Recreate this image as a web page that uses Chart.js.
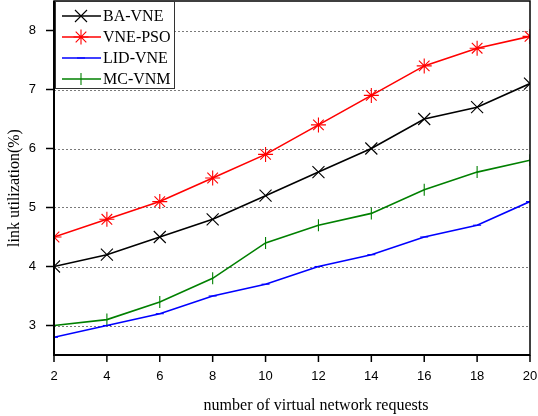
<!DOCTYPE html>
<html>
<head>
<meta charset="utf-8">
<script src="https://cdn.jsdelivr.net/npm/chart.js@4/dist/chart.umd.min.js"></script>
<style>
  html, body { margin: 0; padding: 0; background: #fff; }
  #wrap { width: 538px; height: 416px; position: relative; }
</style>
</head>
<body>
<div id="wrap"><canvas id="linkChart"></canvas></div>
<script>
// values
const requests = [2, 4, 6, 8, 10, 12, 14, 16, 18, 20];
const baVne  = [4.0, 4.2, 4.5, 4.8, 5.2, 5.6, 6.0, 6.5, 6.7, 7.1];
const vnePso = [4.5, 4.8, 5.1, 5.5, 5.9, 6.4, 6.9, 7.4, 7.7, 7.9];
const lidVne = [2.8, 3.0, 3.2, 3.5, 3.7, 4.0, 4.2, 4.5, 4.7, 5.1];
const mcVnm  = [3.0, 3.1, 3.4, 3.8, 4.4, 4.7, 4.9, 5.3, 5.6, 5.8];
const seriesNames = ['BA-VNE', 'VNE-PSO', 'LID-VNE', 'MC-VNM'];
const xTitle = 'number of virtual network requests';
const yTitle = 'link utilization(%)';

const serif = '"Liberation Serif", "Times New Roman", serif';
const sans = '"Liberation Sans", Arial, sans-serif';

const toPoints = vals => vals.map((v, i) => ({ x: requests[i], y: v }));

const styles = [
  { color: '#000000', pointStyle: 'crossRot', radius: 8.5, rotation: 0 },
  { color: '#ff0000', pointStyle: 'star', radius: 7.5, rotation: 0 },
  { color: '#0000ff', pointStyle: 'line', radius: 4, rotation: 0 },
  { color: '#008000', pointStyle: 'line', radius: 6, rotation: 90 }
];

const datasets = [baVne, vnePso, lidVne, mcVnm].map((vals, i) => ({
  label: seriesNames[i],
  data: toPoints(vals),
  borderColor: styles[i].color,
  backgroundColor: styles[i].color,
  borderWidth: 1.6,
  pointStyle: styles[i].pointStyle,
  pointRadius: styles[i].radius,
  pointRotation: styles[i].rotation,
  pointBorderWidth: 1.1,
  tension: 0
}));

// frame, dashed grid, tick marks, titles and the boxed legend
const decorations = {
  id: 'decorations',
  beforeDatasetsDraw(chart) {
    const { ctx, chartArea: a, scales: { y } } = chart;
    ctx.save();
    ctx.strokeStyle = '#7a7a7a';
    ctx.lineWidth = 1;
    ctx.setLineDash([2, 2]);
    y.ticks.forEach(t => {
      if (Number.isInteger(t.value) && t.value > y.min && t.value < y.max) {
        const py = Math.round(y.getPixelForValue(t.value)) + 0.5;
        ctx.beginPath();
        ctx.moveTo(a.left, py);
        ctx.lineTo(a.right, py);
        ctx.stroke();
      }
    });
    ctx.restore();
  },
  afterDraw(chart) {
    const { ctx, chartArea: a, scales: { x, y } } = chart;
    ctx.save();
    ctx.strokeStyle = '#000';
    ctx.setLineDash([]);

    // frame
    ctx.lineWidth = 1.5;
    ctx.strokeRect(a.left, a.top, a.right - a.left, a.bottom - a.top);
    ctx.lineWidth = 2;
    ctx.beginPath();
    ctx.moveTo(a.left, a.top);
    ctx.lineTo(a.left, a.bottom);
    ctx.lineTo(a.right, a.bottom);
    ctx.stroke();

    // tick marks (major + minor), pointing out
    ctx.lineWidth = 1.5;
    y.ticks.forEach(t => {
      const py = y.getPixelForValue(t.value);
      const len = Number.isInteger(t.value) ? 8 : 5;
      ctx.beginPath();
      ctx.moveTo(a.left - len, py);
      ctx.lineTo(a.left, py);
      ctx.stroke();
    });
    x.ticks.forEach(t => {
      const px = x.getPixelForValue(t.value);
      const len = t.value % 2 === 0 ? 7 : 4;
      ctx.beginPath();
      ctx.moveTo(px, a.bottom);
      ctx.lineTo(px, a.bottom + len);
      ctx.stroke();
    });

    // axis titles
    ctx.fillStyle = '#000';
    ctx.font = '16px ' + serif;
    ctx.textAlign = 'center';
    ctx.textBaseline = 'middle';
    ctx.fillText(xTitle, 316, 406);
    ctx.save();
    ctx.translate(15, 188);
    ctx.rotate(-Math.PI / 2);
    ctx.fillText(yTitle, 0, 0);
    ctx.restore();

    // legend box
    const lx = a.left + 1, ly = a.top, lw = 119, lh = 87;
    ctx.fillStyle = '#fff';
    ctx.fillRect(lx, ly, lw, lh);
    ctx.lineWidth = 1;
    ctx.strokeStyle = '#333';
    ctx.strokeRect(lx + 0.5, ly + 0.5, lw, lh);
    ctx.textAlign = 'left';
    ctx.font = '16px ' + serif;
    chart.data.datasets.forEach((ds, i) => {
      const cy = ly + 15 + i * 21;
      ctx.strokeStyle = ds.borderColor;
      ctx.lineWidth = 1.5;
      ctx.beginPath();
      ctx.moveTo(lx + 7, cy);
      ctx.lineTo(lx + 46, cy);
      ctx.stroke();
      ctx.lineWidth = 1.1;
      if (Chart.helpers && Chart.helpers.drawPoint) {
        Chart.helpers.drawPoint(ctx, {
          pointStyle: ds.pointStyle,
          radius: ds.pointRadius,
          rotation: ds.pointRotation,
          borderWidth: 1.1
        }, lx + 26, cy);
      }
      ctx.fillStyle = '#000';
      ctx.fillText(ds.label, lx + 48, cy + 1);
    });
    ctx.restore();
  }
};

new Chart(document.getElementById('linkChart'), {
  type: 'line',
  data: { datasets },
  plugins: [decorations],
  options: {
    responsive: true,
    maintainAspectRatio: false,
    animation: false,
    // no extra room for marker overflow: the frame sits right at the top
    layout: { autoPadding: false, padding: { top: 1, right: 8, left: 0, bottom: 0 } },
    plugins: {
      legend: { display: false },
      tooltip: { enabled: false }
    },
    scales: {
      x: {
        type: 'linear',
        min: 2,
        max: 20,
        grid: { display: false },
        border: { display: false },
        ticks: {
          stepSize: 1,
          padding: 6,
          color: '#000',
          font: { family: sans, size: 13 },
          maxRotation: 0,
          autoSkip: false,
          // null keeps the minor tick but gives it no label
          callback: v => (v % 2 === 0 ? v : null)
        },
        // fixed axis band, and drop the end-label room Chart.js reserves
        afterFit: s => { s.height = 61; s.paddingLeft = 0; s.paddingRight = 0; }
      },
      y: {
        type: 'linear',
        min: 2.5,
        max: 8.5,
        grid: { display: false },
        border: { display: false },
        ticks: {
          stepSize: 0.5,
          padding: 10,
          color: '#000',
          font: { family: sans, size: 13 },
          autoSkip: false,
          callback: v => (Number.isInteger(v) ? v : null)
        },
        afterFit: s => { s.width = 54; s.paddingTop = 0; s.paddingBottom = 0; }
      }
    }
  }
});
</script>
</body>
</html>
